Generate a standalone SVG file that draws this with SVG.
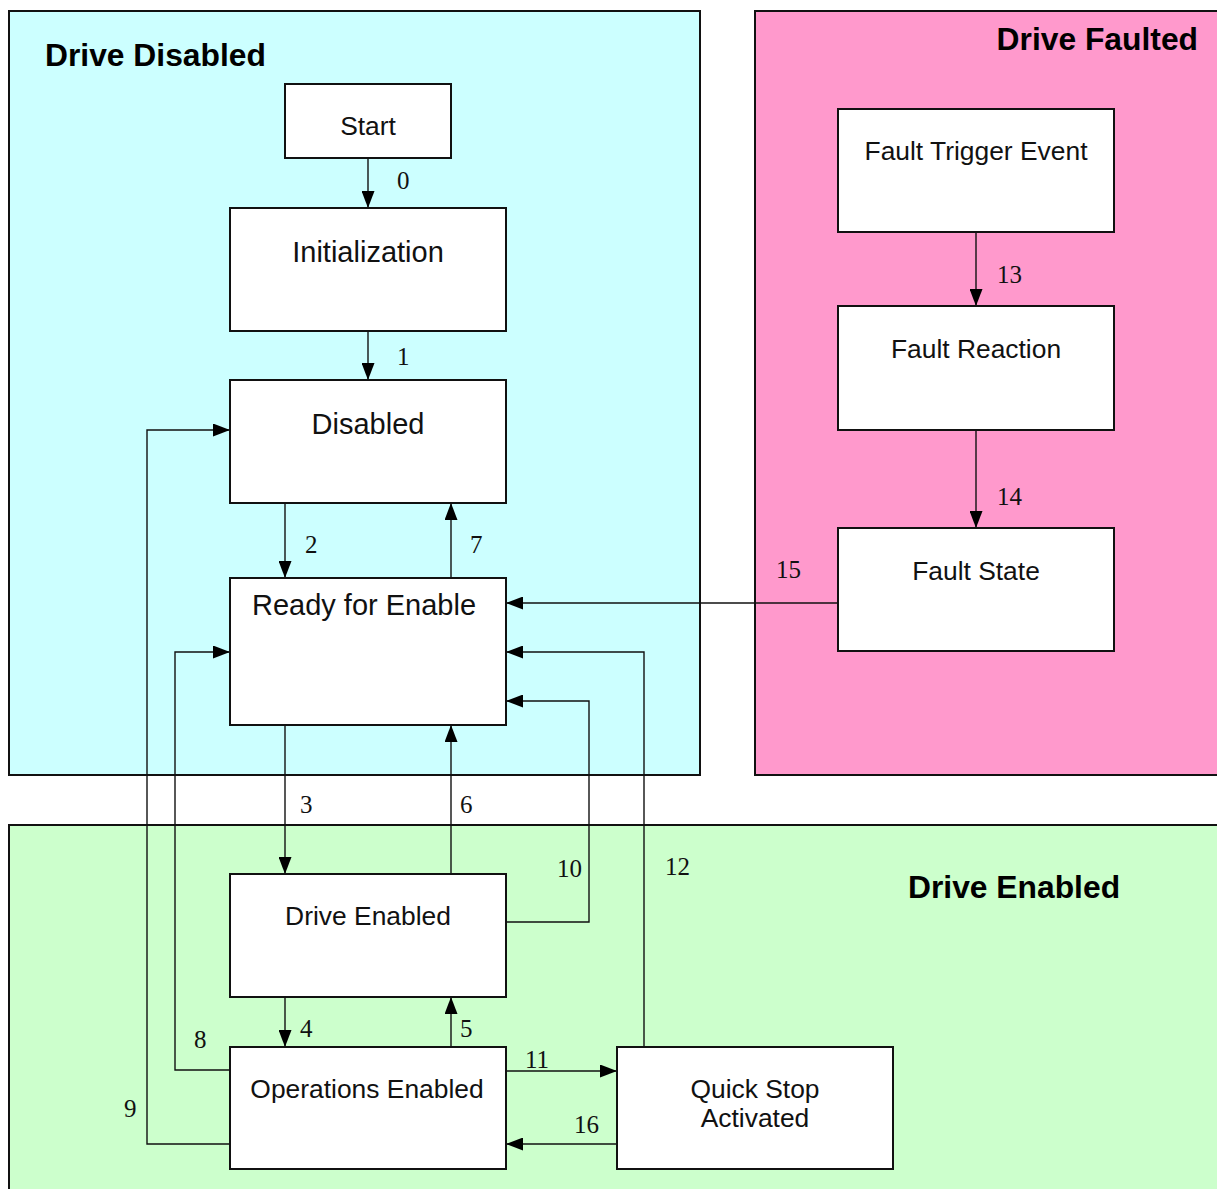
<svg xmlns="http://www.w3.org/2000/svg" width="1217" height="1189" viewBox="0 0 1217 1189">
  <defs>
    <marker id="arrow" markerUnits="userSpaceOnUse" markerWidth="17" markerHeight="13" refX="17" refY="6.5" orient="auto">
      <path d="M0,0 L17,6.5 L0,13 z" fill="#000"/>
    </marker>
    <style>
      .zone { stroke: #111; stroke-width: 2; }
      .zone-title { font-family: "Liberation Sans", Arial, sans-serif; font-weight: bold; font-size: 31.8px; fill: #000; }
      .state { fill: #fff; stroke: #111; stroke-width: 2; }
      .label { font-family: "Liberation Sans", Arial, sans-serif; font-size: 26.4px; fill: #111; text-anchor: middle; }
      .label.big { font-size: 29px; }
      .edge { fill: none; stroke: #111; stroke-width: 1.4; marker-end: url(#arrow); }
      .num { font-family: "Liberation Serif", "Times New Roman", serif; font-size: 25px; fill: #111; }
    </style>
  </defs>
  <rect width="1217" height="1189" fill="#fff"/>

  <!-- zones -->
  <g id="zone-disabled">
    <rect class="zone" x="9" y="11" width="691" height="764" fill="#CCFFFF"/>
    <text class="zone-title" x="45" y="66">Drive Disabled</text>
  </g>
  <g id="zone-faulted">
    <rect class="zone" x="755" y="11" width="480" height="764" fill="#FF99CC"/>
    <text class="zone-title" x="1198" y="50" text-anchor="end">Drive Faulted</text>
  </g>
  <g id="zone-enabled">
    <rect class="zone" x="9" y="825" width="1226" height="380" fill="#CCFFCC"/>
    <text class="zone-title" x="908" y="898">Drive Enabled</text>
  </g>

  <!-- connectors -->
  <g id="connectors">
    <path class="edge" d="M368,158 V208"/>
    <path class="edge" d="M368,331 V380"/>
    <path class="edge" d="M285,503 V578"/>
    <path class="edge" d="M451,578 V503"/>
    <path class="edge" d="M285,725 V874"/>
    <path class="edge" d="M451,874 V725"/>
    <path class="edge" d="M285,997 V1047"/>
    <path class="edge" d="M451,1047 V997"/>
    <path class="edge" d="M230,1070 H175 V652 H230"/>
    <path class="edge" d="M230,1144 H147 V430 H230"/>
    <path class="edge" d="M506,922 H589 V701 H506"/>
    <path class="edge" d="M644,1047 V652 H506"/>
    <path class="edge" d="M506,1071 H617"/>
    <path class="edge" d="M617,1144 H506"/>
    <path class="edge" d="M976,232 V306"/>
    <path class="edge" d="M976,430 V528"/>
    <path class="edge" d="M838,603 H506"/>

    <text class="num" x="397" y="189">0</text>
    <text class="num" x="397" y="365">1</text>
    <text class="num" x="305" y="553">2</text>
    <text class="num" x="470" y="553">7</text>
    <text class="num" x="300" y="813">3</text>
    <text class="num" x="460" y="813">6</text>
    <text class="num" x="300" y="1037">4</text>
    <text class="num" x="460" y="1037">5</text>
    <text class="num" x="194" y="1048">8</text>
    <text class="num" x="124" y="1117">9</text>
    <text class="num" x="557" y="877">10</text>
    <text class="num" x="665" y="875">12</text>
    <text class="num" x="525" y="1068">11</text>
    <text class="num" x="574" y="1133">16</text>
    <text class="num" x="997" y="283">13</text>
    <text class="num" x="997" y="505">14</text>
    <text class="num" x="776" y="578">15</text>
  </g>

  <!-- states -->
  <g id="start">
    <rect class="state" x="285" y="84" width="166" height="74"/>
    <text class="label" x="368" y="135">Start</text>
  </g>
  <g id="initialization">
    <rect class="state" x="230" y="208" width="276" height="123"/>
    <text class="label big" x="368" y="262">Initialization</text>
  </g>
  <g id="disabled">
    <rect class="state" x="230" y="380" width="276" height="123"/>
    <text class="label big" x="368" y="434">Disabled</text>
  </g>
  <g id="ready-for-enable">
    <rect class="state" x="230" y="578" width="276" height="147"/>
    <text class="label big" x="364" y="615">Ready for Enable</text>
  </g>
  <g id="drive-enabled">
    <rect class="state" x="230" y="874" width="276" height="123"/>
    <text class="label" x="368" y="925">Drive Enabled</text>
  </g>
  <g id="operations-enabled">
    <rect class="state" x="230" y="1047" width="276" height="122"/>
    <text class="label" x="367" y="1098">Operations Enabled</text>
  </g>
  <g id="quick-stop-activated">
    <rect class="state" x="617" y="1047" width="276" height="122"/>
    <text class="label" x="755" y="1098">Quick Stop</text>
    <text class="label" x="755" y="1127">Activated</text>
  </g>
  <g id="fault-trigger-event">
    <rect class="state" x="838" y="109" width="276" height="123"/>
    <text class="label" x="976" y="160">Fault Trigger Event</text>
  </g>
  <g id="fault-reaction">
    <rect class="state" x="838" y="306" width="276" height="124"/>
    <text class="label" x="976" y="358">Fault Reaction</text>
  </g>
  <g id="fault-state">
    <rect class="state" x="838" y="528" width="276" height="123"/>
    <text class="label" x="976" y="580">Fault State</text>
  </g>
</svg>
